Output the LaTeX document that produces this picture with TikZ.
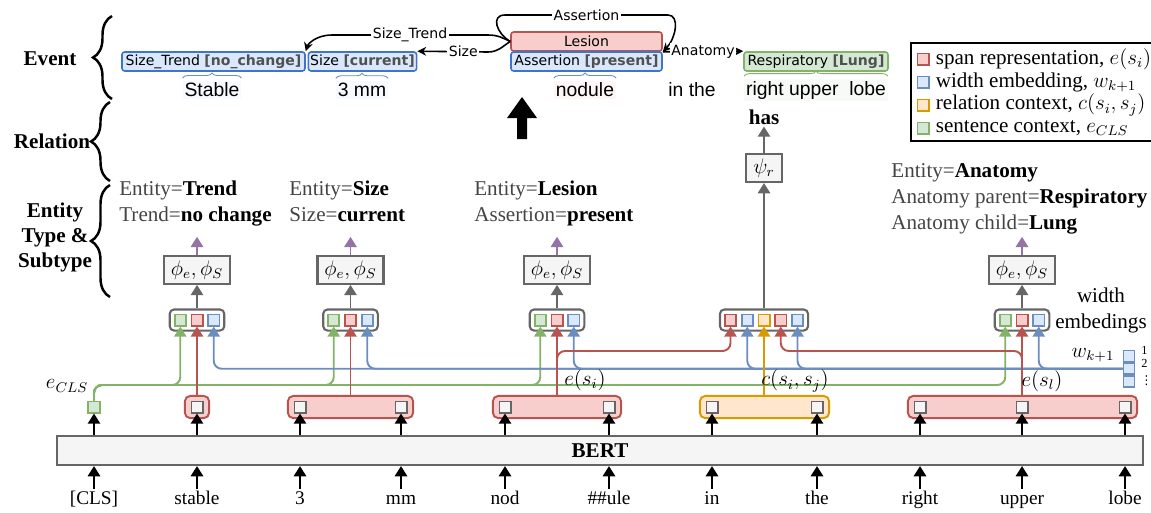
\documentclass[tikz,border=0pt]{standalone}
\usepackage{fontspec}
\usepackage{amsmath}
\setmainfont{Liberation Serif}
\newfontfamily\boxfont{DejaVu Sans}
\newfontfamily\wordfont{Liberation Sans}
\usetikzlibrary{arrows.meta,positioning,fit,backgrounds,decorations.pathreplacing}

\definecolor{redfill}{HTML}{F8CECC}
\definecolor{reddraw}{HTML}{B85450}
\definecolor{bluefill}{HTML}{DAE8FC}
\definecolor{bluedraw}{HTML}{6C8EBF}
\definecolor{greenfill}{HTML}{D5E8D4}
\definecolor{greendraw}{HTML}{82B366}
\definecolor{orangefill}{HTML}{FFE6CC}
\definecolor{orangedraw}{HTML}{D79B00}
\definecolor{grayfill}{HTML}{F5F5F5}
\definecolor{graydraw}{HTML}{666666}
\definecolor{purpledraw}{HTML}{9673A6}
\definecolor{evblue}{HTML}{3F74C8}
\definecolor{taggray}{HTML}{505050}
\definecolor{labgray}{HTML}{444444}

\newcommand{\evtag}[1]{\textcolor{taggray}{\bfseries #1}}
\newcommand{\entval}[1]{\textcolor{black}{\textbf{#1}}}

\tikzset{
  txt/.style={font=\fontsize{12}{14.8}\selectfont, inner sep=0pt},
  tok/.style={font=\fontsize{11}{13}\selectfont, text height=8pt, text depth=2.5pt, inner sep=1pt},
  cell/.style={rectangle, minimum size=0.225cm, inner sep=0pt, line width=1pt},
  rcell/.style={cell, draw=reddraw, fill=redfill},
  bcell/.style={cell, draw=bluedraw, fill=bluefill},
  gcell/.style={cell, draw=greendraw, fill=greenfill},
  ocell/.style={cell, draw=orangedraw, fill=orangefill},
  tcell/.style={cell, draw=graydraw, fill=grayfill},
  catbox/.style={draw=graydraw, line width=1.2pt, rounded corners=2.5pt, inner sep=2.3pt},
  spanbox/.style={line width=1.1pt, rounded corners=3pt, inner xsep=3.2pt, inner ysep=2.6pt},
  phibox/.style={draw=graydraw, fill=grayfill, line width=1.2pt, minimum height=0.56cm, inner sep=2pt, font=\fontsize{12}{14}\selectfont},
  arr/.style={-{Triangle[width=7pt,length=5.8pt]}, line width=1.1pt},
  link/.style={arr, rounded corners=0.16cm},
  evbox/.style={minimum height=0.38cm, inner sep=1pt, rounded corners=1.5pt, line width=0.9pt, font=\boxfont\fontsize{8}{9}\selectfont},
  evlbl/.style={fill=white, inner sep=1pt, font=\boxfont\fontsize{8}{9}\selectfont},
  evarr/.style={-{Stealth[length=5pt,width=5pt]}, line width=0.9pt},
  word/.style={font=\wordfont\fontsize{11}{13}\selectfont, inner sep=1pt},
  wbrace/.style={decorate, decoration={brace, amplitude=3pt}, line width=0.5pt},
  bigbrace/.style={decorate, decoration={brace, amplitude=0.38cm}, line width=1.4pt},
  side/.style={font=\bfseries\fontsize{12}{14.2}\selectfont, align=center},
  idx/.style={font=\fontsize{7}{7}\selectfont, inner sep=0pt},
}

\begin{document}
\begin{tikzpicture}[x=0.02cm, y=-0.02cm]
    \useasboundingbox (0,0) rectangle (1151,512);

    \node[side] (ev-lbl) at (50,59) {Event};
    \node[side] (rel-lbl) at (52,141) {Relation};
    \node[side] (ent-lbl) at (55,237) {Entity\\Type \&\\Subtype};
    \draw[bigbrace] (112,99) -- (112,16);
    \draw[bigbrace] (110,181) -- (110,102);
    \draw[bigbrace] (110,297) -- (110,185);

    \node[evbox, draw=evblue, fill=bluefill, minimum width=3.66cm] (ev-trend) at (213.5,61.5) {Size\_Trend \evtag{[no\_change]}};
    \node[evbox, draw=evblue, fill=bluefill, minimum width=2.1cm] (ev-size) at (362.5,61.5) {Size \evtag{[current]}};
    \node[evbox, draw=reddraw, fill=redfill, minimum width=3.02cm] (ev-lesion) at (586.5,41.5) {Lesion};
    \node[evbox, draw=evblue, fill=bluefill, minimum width=3.02cm] (ev-assert) at (586.5,61.5) {Assertion \evtag{[present]}};
    \node[evbox, draw=greendraw, fill=greenfill, minimum width=2.88cm] (ev-resp) at (816,61.5) {Respiratory \evtag{[Lung]}};

    \node[word, fill=bluefill!25] (w-stable) at (212,90) {Stable};
    \node[word, fill=bluefill!25] (w-3mm) at (362,90) {3 mm};
    \node[word, fill=redfill!20] (w-nodule) at (585,90) {nodule};
    \node[word] (w-inthe) at (692,90) {in the};
    \node[word, fill=greenfill!20] (w-rul) at (816,90) {right upper\ \ lobe};
    \draw[wbrace, bluedraw] ([yshift=1.5pt]w-stable.north west) -- ([yshift=1.5pt]w-stable.north east);
    \draw[wbrace, bluedraw] ([yshift=1.5pt]w-3mm.north west) -- ([yshift=1.5pt]w-3mm.north east);
    \draw[wbrace, bluedraw] ([yshift=1.5pt]w-nodule.north west) -- ([yshift=1.5pt]w-nodule.north east);
    \draw[wbrace, greendraw] ([yshift=1.5pt]w-rul.north west) -- ([yshift=1.5pt]w-rul.north east);

    \draw[evarr] (ev-lesion.west) .. controls (497,34) and (490,15) .. (505,15) -- node[evlbl]{Assertion} (668,15) .. controls (680,15) and (676,38) .. (ev-lesion.south east);
    \draw[evarr] (ev-lesion.west) .. controls (503,38) and (498,35) .. (488,35) -- node[evlbl]{Size\_Trend} (332,35) .. controls (316,35) and (308,44) .. (ev-trend.north east);
    \draw[evarr] (ev-lesion.west) .. controls (503,46) and (498,52) .. (488,52) -- node[evlbl, pos=0.35]{Size} (ev-size.north east);
    \draw[evarr] (ev-lesion.south east) -- node[evlbl]{Anatomy} (ev-resp.north west);

    \fill (517,139) -- (517,118) -- (507,118) -- (522,97) -- (537,118) -- (527,118) -- (527,139) -- cycle;

    \node[rcell] (leg1) at (923,59) {};
    \node[bcell] (leg2) at (923,82) {};
    \node[ocell] (leg3) at (923,105) {};
    \node[gcell] (leg4) at (923,128) {};
    \node[txt, right=0.12cm of leg1] (leg1-txt) {span representation, $e(s_i)$};
    \node[txt, right=0.12cm of leg2] (leg2-txt) {width embedding, $w_{k+1}$};
    \node[txt, right=0.12cm of leg3] (leg3-txt) {relation context, $c(s_i,s_j)$};
    \node[txt, right=0.12cm of leg4] (leg4-txt) {sentence context, $e_{CLS}$};
    \node[draw, line width=1.3pt, inner sep=3pt, fit=(leg1)(leg1-txt)(leg4)(leg4-txt)] (legend) {};

    \node[txt, anchor=north west, align=left, text=labgray] (trend-lbl) at (119,181) {Entity=\entval{Trend}\\Trend=\entval{no change}};
    \node[txt, anchor=north west, align=left, text=labgray] (size-lbl) at (289,181) {Entity=\entval{Size}\\Size=\entval{current}};
    \node[txt, anchor=north west, align=left, text=labgray] (lesion-lbl) at (474,181) {Entity=\entval{Lesion}\\Assertion=\entval{present}};
    \node[txt, anchor=north west, align=left, text=labgray] (anat-lbl) at (891,163) {Entity=\entval{Anatomy}\\Anatomy parent=\entval{Respiratory}\\Anatomy child=\entval{Lung}};

    \node[draw=graydraw, fill=grayfill, line width=1.2pt, minimum width=21.72cm, minimum height=0.58cm, font=\bfseries\fontsize{12}{14}\selectfont] (bert) at (600,450.5) {BERT};

    \node[tok] (t1) at (94,500) {[CLS]};
    \node[tok] (t2) at (197,500) {stable};
    \node[tok] (t3) at (300,500) {3};
    \node[tok] (t4) at (401,500) {mm};
    \node[tok] (t5) at (505,500) {nod};
    \node[tok] (t6) at (609,500) {\#\#ule};
    \node[tok] (t7) at (712,500) {in};
    \node[tok] (t8) at (817,500) {the};
    \node[tok] (t9) at (920,500) {right};
    \node[tok] (t10) at (1022,500) {upper};
    \node[tok] (t11) at (1125,500) {lobe};

    \node[gcell] (c1) at (94,407) {};
    \node[tcell] (c2) at (197,407) {};
    \node[tcell] (c3) at (300,407) {};
    \node[tcell] (c4) at (401,407) {};
    \node[tcell] (c5) at (505,407) {};
    \node[tcell] (c6) at (609,407) {};
    \node[tcell] (c7) at (712,407) {};
    \node[tcell] (c8) at (817,407) {};
    \node[tcell] (c9) at (920,407) {};
    \node[tcell] (c10) at (1022,407) {};
    \node[tcell] (c11) at (1125,407) {};

    \begin{scope}[on background layer]
        \node[spanbox, draw=reddraw, fill=redfill, fit=(c2)] (sp-stable) {};
        \node[spanbox, draw=reddraw, fill=redfill, fit=(c3)(c4)] (sp-3mm) {};
        \node[spanbox, draw=reddraw, fill=redfill, fit=(c5)(c6)] (sp-nod) {};
        \node[spanbox, draw=orangedraw, fill=orangefill, fit=(c7)(c8)] (sp-inthe) {};
        \node[spanbox, draw=reddraw, fill=redfill, fit=(c9)(c11)] (sp-rul) {};
    \end{scope}

    \foreach \i in {1,...,11}{
        \draw[arr] (t\i.north) -- (t\i.north |- bert.south);
        \draw[arr] (c\i.south |- bert.north) -- (c\i.south);
    }

    \node[rcell] (trend-r) at (197,320) {};
    \node[gcell, left=0.075cm of trend-r] (trend-g) {};
    \node[bcell, right=0.075cm of trend-r] (trend-b) {};
    \node[catbox, fit=(trend-g)(trend-b)] (trend-cat) {};
    \node[phibox, minimum width=1.32cm, above=0.47cm of trend-cat] (trend-phi) {$\phi_e,\phi_S$};
    \coordinate[above=0.36cm of trend-phi] (trend-out);

    \node[rcell] (size-r) at (350.5,320) {};
    \node[gcell, left=0.075cm of size-r] (size-g) {};
    \node[bcell, right=0.075cm of size-r] (size-b) {};
    \node[catbox, fit=(size-g)(size-b)] (size-cat) {};
    \node[phibox, minimum width=1.32cm, above=0.47cm of size-cat] (size-phi) {$\phi_e,\phi_S$};
    \coordinate[above=0.36cm of size-phi] (size-out);

    \node[rcell] (lesion-r) at (557,320) {};
    \node[gcell, left=0.075cm of lesion-r] (lesion-g) {};
    \node[bcell, right=0.075cm of lesion-r] (lesion-b) {};
    \node[catbox, fit=(lesion-g)(lesion-b)] (lesion-cat) {};
    \node[phibox, minimum width=1.32cm, above=0.47cm of lesion-cat] (lesion-phi) {$\phi_e,\phi_S$};
    \coordinate[above=0.36cm of lesion-phi] (lesion-out);

    \node[rcell] (anat-r) at (1022,320) {};
    \node[gcell, left=0.075cm of anat-r] (anat-g) {};
    \node[bcell, right=0.075cm of anat-r] (anat-b) {};
    \node[catbox, fit=(anat-g)(anat-b)] (anat-cat) {};
    \node[phibox, minimum width=1.32cm, above=0.47cm of anat-cat] (anat-phi) {$\phi_e,\phi_S$};
    \coordinate[above=0.36cm of anat-phi] (anat-out);

    \foreach \g in {trend,size,lesion,anat}{
        \draw[arr, graydraw] (\g-cat) -- (\g-phi);
        \draw[arr, purpledraw] (\g-phi) -- (\g-out);
    }

    \node[ocell] (rel3) at (764,320) {};
    \node[bcell, left=0.075cm of rel3] (rel2) {};
    \node[rcell, left=0.075cm of rel2] (rel1) {};
    \node[rcell, right=0.075cm of rel3] (rel4) {};
    \node[bcell, right=0.075cm of rel4] (rel5) {};
    \node[catbox, fit=(rel1)(rel5)] (rel-cat) {};
    \node[phibox, minimum width=0.72cm] (psi) at (764,168) {$\psi_r$};
    \node[font=\bfseries\fontsize{12}{14}\selectfont, inner sep=1pt] (has) at (764,117) {has};
    \draw[arr, graydraw] (rel-cat) -- (psi);
    \draw[arr, graydraw] (psi) -- (has);

    \node[bcell, minimum size=0.22cm] (wd1) at (1129,356) {};
    \node[bcell, minimum size=0.22cm, below=0pt of wd1] (wd2) {};
    \node[bcell, minimum size=0.22cm, below=0pt of wd2] (wd3) {};
    \node[idx, anchor=west] (wi1) at (1141,350) {1};
    \node[idx, anchor=west] (wi2) at (1141,363) {2};
    \node[idx, anchor=west] (wi3) at (1140,381) {\boxfont ⋮};
    \node[txt] (wk) at (1093,355) {$w_{k+1}$};
    \node[txt, align=center] (wdesc) at (1101,310) {width\\embedings};

    \coordinate (red-rail) at (0,351);
    \coordinate (green-rail) at (0,385);

    \foreach \g in {trend,size,lesion,anat}{
        \draw[link, greendraw] (c1.north) -- (c1.north |- green-rail) -- (\g-g.south |- green-rail) -- (\g-g.south);
    }
    \foreach \b in {trend-b,size-b,lesion-b,rel2,rel5,anat-b}{
        \draw[link, bluedraw] (wd2.west) -- (\b.south |- wd2.west) -- (\b.south);
    }
    \draw[link, reddraw] (trend-r.south |- sp-stable.north) -- (trend-r.south);
    \draw[link, reddraw] (size-r.south |- sp-3mm.north) -- (size-r.south);
    \draw[link, reddraw] (lesion-r.south |- sp-nod.north) -- (lesion-r.south);
    \draw[link, reddraw] (anat-r.south |- sp-rul.north) -- (anat-r.south);
    \draw[link, reddraw] (lesion-r.south |- sp-nod.north) |- (rel1.south |- red-rail) -- (rel1.south);
    \draw[link, reddraw] (anat-r.south |- sp-rul.north) -- (anat-r.south |- red-rail) -| (rel4.south);
    \draw[link, orangedraw] (rel3.south |- sp-inthe.north) -- (rel3.south);

    \node[txt] (ecls) at (67,386) {$e_{CLS}$};
    \node[txt] (esi) at (585,380) {$e(s_i)$};
    \node[txt] (csij) at (795,381) {$c(s_i,s_j)$};
    \node[txt] (esl) at (1042,381) {$e(s_l)$};
\end{tikzpicture}
\end{document}
